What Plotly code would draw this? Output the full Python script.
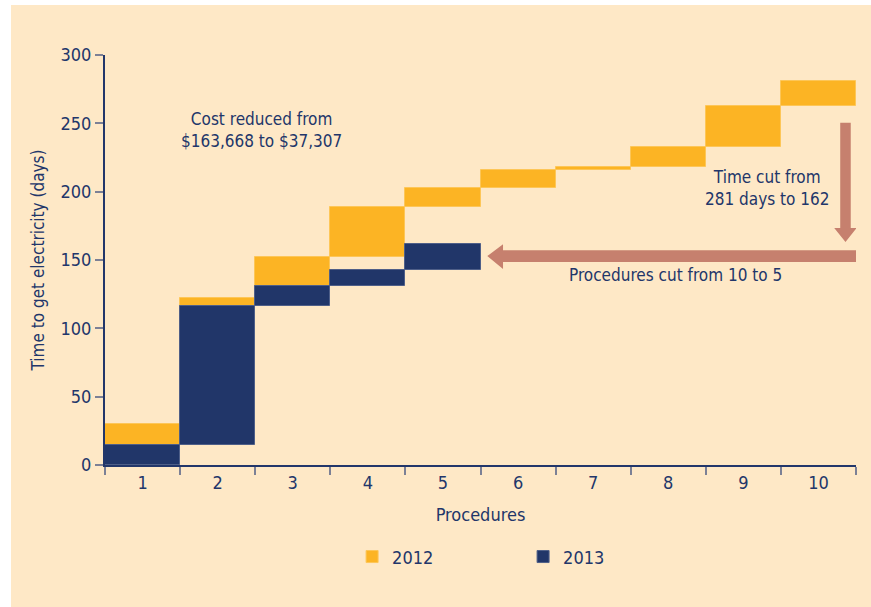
import plotly.graph_objects as go

# Procedure steps and days spent on each step
procedures = [str(i) for i in range(1, 11)]
days_2012 = [30, 92, 30, 37, 14, 13, 2, 15, 30, 18]   # 10 procedures, 281 days
days_2013 = [15, 101, 15, 12, 19]                      # 5 procedures, 162 days

years = ["2012", "2013"]
colors = {"2012": "#FCB424", "2013": "#213669"}
edge = {"2012": "#FDC658", "2013": "#4F5F88"}

cost_note = "Cost reduced from<br>$163,668 to $37,307"
time_note = "Time cut from<br>281 days to 162"
proc_note = "Procedures cut from 10 to 5"

NAVY = "#22366A"
ARROW = "#C6806E"
BG = "#FEE8C6"
FONT = "Liberation Sans Narrow, DejaVu Sans Condensed, Arial Narrow, sans-serif"


def starts(durations):
    out, total = [], 0
    for d in durations:
        out.append(total)
        total += d
    return out


series = {"2012": days_2012, "2013": days_2013}

fig = go.Figure()
for yr in years:
    vals = series[yr]
    fig.add_trace(go.Bar(
        x=procedures[:len(vals)], y=vals, base=starts(vals), name=yr,
        width=1, marker=dict(color=colors[yr], line=dict(color=edge[yr], width=1)),
        hoverinfo="x+y",
    ))

# Arrows (data units: x = category index, y = days)
vx0, vx1, hx0, hx1 = 9.29, 9.43, 9.21, 9.51
v_top, v_neck, v_tip = 250.5, 173.5, 163.2
vert = (f"M{vx0},{v_top} L{vx1},{v_top} L{vx1},{v_neck} L{hx1},{v_neck} "
        f"L{(vx0 + vx1) / 2},{v_tip} L{hx0},{v_neck} L{vx0},{v_neck} Z")
hy0, hy1, hh0, hh1 = 148.5, 157.2, 143.5, 161.5
h_right, h_neck, h_tip = 9.5, 4.80, 4.59
horiz = (f"M{h_right},{hy0} L{h_neck},{hy0} L{h_neck},{hh0} L{h_tip},{(hy0 + hy1) / 2} "
         f"L{h_neck},{hh1} L{h_neck},{hy1} L{h_right},{hy1} Z")

shapes = [
    # thin white page border on the left and top
    dict(type="rect", xref="paper", yref="paper", x0=-0.2, x1=-0.1252, y0=-0.5, y1=1.3,
         fillcolor="white", line=dict(width=0), layer="below"),
    dict(type="rect", xref="paper", yref="paper", x0=-0.2, x1=1.2, y0=1.1222, y1=1.3,
         fillcolor="white", line=dict(width=0), layer="below"),
    dict(type="path", path=vert, xref="x", yref="y", fillcolor=ARROW, line=dict(width=0)),
    dict(type="path", path=horiz, xref="x", yref="y", fillcolor=ARROW, line=dict(width=0)),
]

annotations = [
    dict(x=1.59, y=245, xref="x", yref="y", text=cost_note, showarrow=False,
         font=dict(size=17, color=NAVY, family=FONT), align="center"),
    dict(x=8.31, y=202.5, xref="x", yref="y", text=time_note, showarrow=False,
         font=dict(size=17, color=NAVY, family=FONT), align="center"),
    dict(x=7.09, y=139, xref="x", yref="y", text=proc_note, showarrow=False,
         font=dict(size=17, color=NAVY, family=FONT), align="center"),
]

fig.update_layout(
    width=871, height=607,
    margin=dict(l=105, r=15, t=55, b=142),
    paper_bgcolor=BG, plot_bgcolor=BG,
    barmode="overlay", bargap=0,
    font=dict(family=FONT, size=17, color=NAVY),
    shapes=shapes, annotations=annotations,
    showlegend=True,
    legend=dict(orientation="h", x=0.329, xanchor="left", y=-0.224, yanchor="middle",
                entrywidth=126, entrywidthmode="pixels", bgcolor="rgba(0,0,0,0)",
                font=dict(size=18, color=NAVY, family=FONT), traceorder="normal"),
    xaxis=dict(type="category", categoryorder="array", categoryarray=procedures,
               range=[-0.5, 9.5], tickson="boundaries", ticks="outside", ticklen=8,
               tickcolor="#7C8095", tickwidth=1.5, showline=True, linecolor=NAVY, linewidth=2,
               showgrid=False, zeroline=False, fixedrange=True,
               title=dict(text="Procedures", standoff=17, font=dict(size=18, color=NAVY)),
               tickfont=dict(size=18, color=NAVY)),
    yaxis=dict(range=[0, 300], tickvals=[0, 50, 100, 150, 200, 250, 300], ticks="outside",
               ticklen=8, tickcolor="#7C8095", tickwidth=1.5, showline=True, linecolor=NAVY,
               linewidth=2, showgrid=False, zeroline=False, fixedrange=True,
               title=dict(text="Time to get electricity (days)", standoff=12,
                          font=dict(size=17, color=NAVY)),
               tickfont=dict(size=18, color=NAVY)),
)

fig.write_html("out.html")
